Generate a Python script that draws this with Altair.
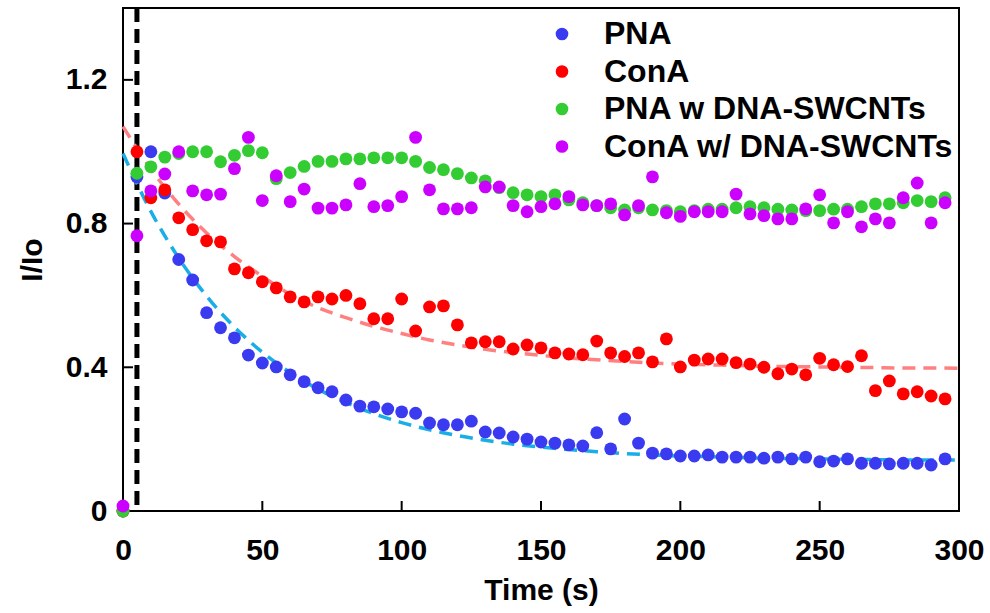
import altair as alt
import pandas as pd

# ---------------- data ----------------
times = [0, 5, 10, 15, 20, 25, 30, 35, 40, 45, 50, 55, 60, 65, 70, 75, 80, 85, 90, 95,
         100, 105, 110, 115, 120, 125, 130, 135, 140, 145, 150, 155, 160, 165, 170, 175,
         180, 185, 190, 195, 200, 205, 210, 215, 220, 225, 230, 235, 240, 245, 250, 255,
         260, 265, 270, 275, 280, 285, 290, 295]

pna = [0.0, 0.93, 1.0, 0.885, 0.70, 0.643, 0.552, 0.51, 0.482, 0.434,
       0.412, 0.401, 0.379, 0.36, 0.343, 0.332, 0.309, 0.292, 0.29, 0.284,
       0.276, 0.272, 0.245, 0.24, 0.24, 0.25, 0.22, 0.217, 0.206, 0.20,
       0.192, 0.189, 0.184, 0.181, 0.218, 0.173, 0.256, 0.189, 0.161, 0.159,
       0.153, 0.153, 0.156, 0.15, 0.15, 0.15, 0.147, 0.15, 0.145, 0.15,
       0.137, 0.139, 0.145, 0.133, 0.133, 0.131, 0.133, 0.133, 0.128, 0.145]

cona = [0.0, 1.0, 0.872, 0.894, 0.816, 0.783, 0.752, 0.749, 0.674, 0.663,
        0.638, 0.621, 0.596, 0.582, 0.596, 0.59, 0.60, 0.577, 0.535, 0.535,
        0.59, 0.501, 0.568, 0.571, 0.518, 0.468, 0.471, 0.471, 0.451, 0.462,
        0.454, 0.44, 0.437, 0.435, 0.473, 0.44, 0.43, 0.44, 0.415, 0.479,
        0.401, 0.42, 0.423, 0.423, 0.413, 0.409, 0.40, 0.382, 0.395, 0.379,
        0.425, 0.407, 0.402, 0.432, 0.335, 0.362, 0.326, 0.332, 0.32, 0.312]

pna_dna = [0.0, 0.94, 0.958, 0.985, 0.995, 1.0, 1.0, 0.972, 0.99, 1.003,
           0.997, 0.925, 0.942, 0.959, 0.973, 0.973, 0.98, 0.98, 0.983, 0.983,
           0.983, 0.973, 0.956, 0.95, 0.939, 0.927, 0.919, 0.90, 0.886, 0.88,
           0.875, 0.88, 0.866, 0.858, 0.85, 0.844, 0.838, 0.844, 0.838, 0.836,
           0.833, 0.836, 0.84, 0.84, 0.844, 0.847, 0.844, 0.84, 0.838, 0.836,
           0.836, 0.84, 0.84, 0.847, 0.855, 0.855, 0.858, 0.864, 0.861, 0.872]

cona_dna = [0.014, 0.766, 0.891, 0.938, 1.0, 0.891, 0.88, 0.882, 0.953, 1.04,
            0.864, 0.933, 0.861, 0.896, 0.843, 0.843, 0.852, 0.911, 0.847, 0.85,
            0.875, 1.04, 0.894, 0.841, 0.841, 0.844, 0.902, 0.902, 0.85, 0.833,
            0.847, 0.855, 0.875, 0.852, 0.85, 0.855, 0.824, 0.85, 0.93, 0.83,
            0.82, 0.833, 0.833, 0.833, 0.882, 0.827, 0.822, 0.813, 0.813, 0.841,
            0.88, 0.802, 0.833, 0.791, 0.813, 0.802, 0.872, 0.913, 0.802, 0.858]

series_names = ["PNA", "ConA", "PNA w DNA-SWCNTs", "ConA w/ DNA-SWCNTs"]
series_colors = ["#3a3af0", "#ff0000", "#33cc33", "#cc00ff"]

# dashed fit curves
fit_times = [0, 10, 20, 30, 40, 50, 60, 70, 80, 90, 100, 110, 120, 130, 140, 150,
             160, 170, 180, 190, 200, 210, 220, 230, 240, 250, 260, 270, 280, 290, 300]
fit_pna = [0.995, 0.834, 0.704, 0.598, 0.512, 0.442, 0.385, 0.339, 0.302, 0.271,
           0.246, 0.226, 0.210, 0.197, 0.186, 0.178, 0.171, 0.165, 0.160, 0.156,
           0.153, 0.151, 0.149, 0.147, 0.146, 0.145, 0.144, 0.143, 0.142, 0.142, 0.142]
fit_cona = [1.07, 0.952, 0.854, 0.774, 0.708, 0.653, 0.603, 0.566, 0.538, 0.514,
            0.494, 0.476, 0.462, 0.450, 0.441, 0.433, 0.426, 0.421, 0.416, 0.412,
            0.409, 0.407, 0.405, 0.403, 0.402, 0.401, 0.400, 0.399, 0.398, 0.398, 0.397]

marker_time = [5]

x_ticks = [0, 50, 100, 150, 200, 250, 300]
y_ticks = [0, 0.4, 0.8, 1.2]

# ---------------- tables ----------------
rows = []
for name, vals in zip(series_names, [pna, cona, pna_dna, cona_dna]):
    assert len(vals) == len(times), name
    for t, v in zip(times, vals):
        rows.append({"t": t, "v": v, "series": name})
points_df = pd.DataFrame(rows)
fit_pna_df = pd.DataFrame({"t": fit_times, "v": fit_pna})
fit_cona_df = pd.DataFrame({"t": fit_times, "v": fit_cona})
marker_df = pd.DataFrame({"t": marker_time})
xtick_df = pd.DataFrame({"t": x_ticks})
ytick_df = pd.DataFrame({"v": y_ticks})

W, H = 836, 503
FONT = "Liberation Sans"
TICK = 10

xscale = alt.Scale(domain=[0, 300], nice=False, zero=False)
yscale = alt.Scale(domain=[0, 1.4], nice=False, zero=False)

main_x_axis = alt.Axis(values=x_ticks, ticks=False, domain=False, grid=False,
                       labelFont=FONT, labelFontSize=30, labelFontWeight="bold",
                       labelColor="black", labelPadding=24, labelFlush=False,
                       labelOverlap=False, format="d",
                       title="Time (s)", titleFont=FONT, titleFontSize=30,
                       titleFontWeight="bold", titleColor="black", titlePadding=10)
main_y_axis = alt.Axis(values=y_ticks, ticks=False, domain=False, grid=False,
                       labelFont=FONT, labelFontSize=30, labelFontWeight="bold",
                       labelColor="black", labelPadding=16, labelFlush=False,
                       labelOverlap=False,
                       labelExpr="datum.value == 0 ? '0' : format(datum.value, '.1f')",
                       title="I/Io", titleFont=FONT, titleFontSize=30,
                       titleFontWeight="bold", titleColor="black", titlePadding=18)


def X(field="t:Q"):
    return alt.X(field, scale=xscale, axis=main_x_axis)


def Y(field="v:Q"):
    return alt.Y(field, scale=yscale, axis=main_y_axis)


# inward tick marks
xticks_layer = alt.Chart(xtick_df).mark_rule(color="black", strokeWidth=2).encode(
    x=X(), y=alt.value(H), y2=alt.value(H - TICK))
yticks_layer = alt.Chart(ytick_df).mark_rule(color="black", strokeWidth=2).encode(
    y=Y(), x=alt.value(0), x2=alt.value(TICK))

marker = alt.Chart(marker_df).mark_rule(
    color="black", strokeWidth=5, strokeDash=[14, 7]
).encode(x=X())

fit_c = alt.Chart(fit_cona_df).mark_line(
    color="#ff8080", strokeWidth=3.5, strokeDash=[13, 8], interpolate="monotone"
).encode(x=X(), y=Y())

fit_p = alt.Chart(fit_pna_df).mark_line(
    color="#1aaee6", strokeWidth=3.5, strokeDash=[13, 8], interpolate="monotone"
).encode(x=X(), y=Y())

points = alt.Chart(points_df).mark_circle(size=165, opacity=1).encode(
    x=X(),
    y=Y(),
    color=alt.Color("series:N",
                    scale=alt.Scale(domain=series_names, range=series_colors),
                    sort=series_names,
                    legend=alt.Legend(orient="none", legendX=423, legendY=10,
                                      title=None, labelFont=FONT, labelFontSize=32,
                                      labelFontWeight="bold", labelColor="black",
                                      symbolType="circle", symbolSize=160,
                                      symbolOpacity=1, symbolStrokeWidth=0,
                                      labelOffset=26, rowPadding=5.5, padding=0,
                                      labelLimit=600)),
)

chart = alt.layer(xticks_layer, yticks_layer, marker, fit_c, fit_p, points).properties(
    width=W, height=H,
    autosize=alt.AutoSizeParams(type="none"),
    padding={"left": 123, "top": 8, "right": 31, "bottom": 102},
    background="white",
).configure_view(stroke="black", strokeWidth=2)

chart.save("out.html", embed_options={"renderer": "svg", "actions": False})
